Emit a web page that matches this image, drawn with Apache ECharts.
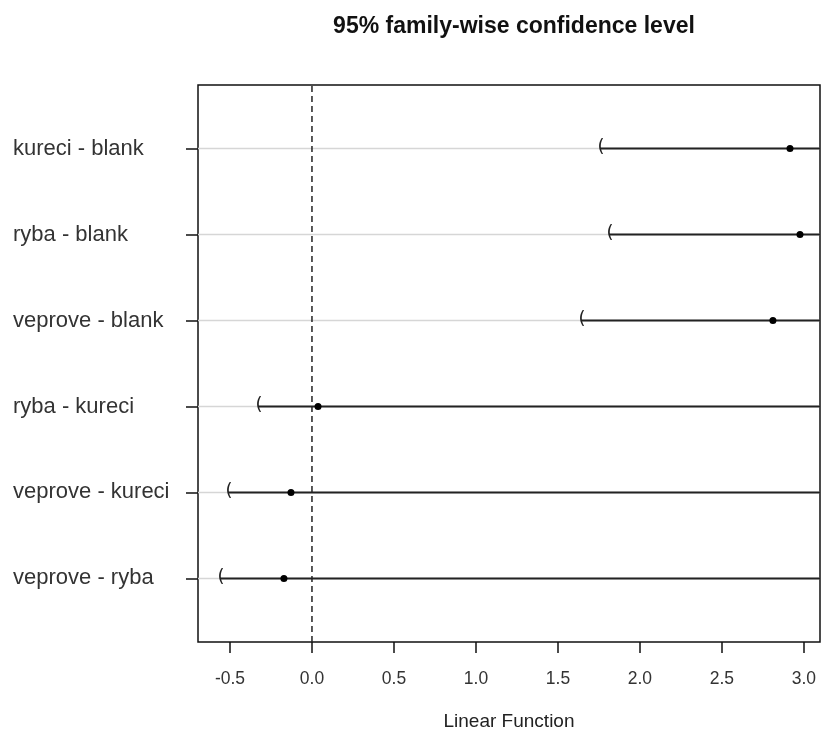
<!DOCTYPE html>
<html>
<head>
<meta charset="utf-8">
<script src="https://cdn.jsdelivr.net/npm/echarts@6/dist/echarts.min.js"></script>
<style>html,body{margin:0;padding:0;background:#fff}#c{width:824px;height:734px}</style>
</head>
<body>
<div id="c"></div>
<script>
const comparisons = ['kureci - blank','ryba - blank','veprove - blank','ryba - kureci','veprove - kureci','veprove - ryba'];
const estimates = [2.915, 2.976, 2.811, 0.037, -0.128, -0.171];
const lowerBounds = [1.756, 1.811, 1.640, -0.329, -0.512, -0.561];
const xTicks = [-0.5, 0.0, 0.5, 1.0, 1.5, 2.0, 2.5, 3.0];
const xMin = -0.695, xMax = 3.098;
const yMin = 0.26, yMax = 6.74;

const n = comparisons.length;
const rowPos = comparisons.map((_, i) => n - i);
const ciData = comparisons.map((c, i) => [lowerBounds[i], estimates[i], rowPos[i]]);

const chart = echarts.init(document.getElementById('c'), null, {renderer: 'canvas'});
chart.setOption({
  animation: false,
  backgroundColor: '#fff',
  title: {
    text: '95% family-wise confidence level',
    left: 509, top: 10, textAlign: 'center',
    textStyle: {fontFamily: 'Liberation Sans, Arial', fontWeight: 'bold', fontSize: 23, color: '#111'}
  },
  grid: {left: 198, right: 4, top: 85, bottom: 92, outerBoundsMode: 'none', containLabel: false,
    show: true, borderColor: '#111', borderWidth: 1.5, backgroundColor: 'transparent'},
  xAxis: {
    type: 'value', min: xMin, max: xMax,
    name: 'Linear Function', nameLocation: 'middle', nameGap: 70,
    nameTextStyle: {fontFamily: 'Liberation Sans, Arial', fontSize: 19, color: '#222'},
    axisLine: {show: false, onZero: false},
    axisTick: {show: true, length: 11, lineStyle: {color: '#111', width: 1.5}, customValues: xTicks},
    axisLabel: {customValues: xTicks, margin: 28, fontFamily: 'Liberation Sans, Arial', fontSize: 17.5, color: '#333',
      formatter: v => v.toFixed(1)},
    splitLine: {show: false}
  },
  yAxis: {
    type: 'value', min: yMin, max: yMax,
    axisLine: {show: false, onZero: false},
    axisTick: {show: true, length: 12, lineStyle: {color: '#111', width: 1.5}, customValues: rowPos},
    axisLabel: {customValues: rowPos, align: 'left', margin: 185,
      fontFamily: 'Liberation Sans, Arial', fontSize: 22, color: '#333',
      formatter: v => comparisons[n - Math.round(v)]},
    splitLine: {show: false}
  },
  series: [
    {
      type: 'custom',
      clip: true,
      data: ciData,
      renderItem: function (params, api) {
        const lo = api.value(0), est = api.value(1), row = api.value(2);
        const pL = api.coord([xMin, row]);
        const pR = api.coord([xMax, row]);
        const pLo = api.coord([lo, row]);
        const pE = api.coord([est, row]);
        return {
          type: 'group',
          children: [
            {type: 'line', shape: {x1: pL[0], y1: pL[1], x2: pR[0], y2: pR[1]}, style: {stroke: '#d6d6d6', lineWidth: 1.5}},
            {type: 'line', shape: {x1: pLo[0], y1: pLo[1], x2: pR[0], y2: pR[1]}, style: {stroke: '#222', lineWidth: 2}},
            {type: 'text', x: pLo[0] + 1, y: pLo[1] - 1, style: {text: '(', fontFamily: 'DejaVu Sans', fontSize: 18, fill: '#222', align: 'center', verticalAlign: 'middle'}},
            {type: 'circle', shape: {cx: pE[0], cy: pE[1], r: 3.5}, style: {fill: '#000'}}
          ]
        };
      }
    },
    {
      type: 'line',
      data: [[0, yMin], [0, yMax]],
      symbol: 'none',
      lineStyle: {color: '#222', width: 1.5, type: [6, 4]},
      z: 3
    }
  ]
});
</script>
</body>
</html>
